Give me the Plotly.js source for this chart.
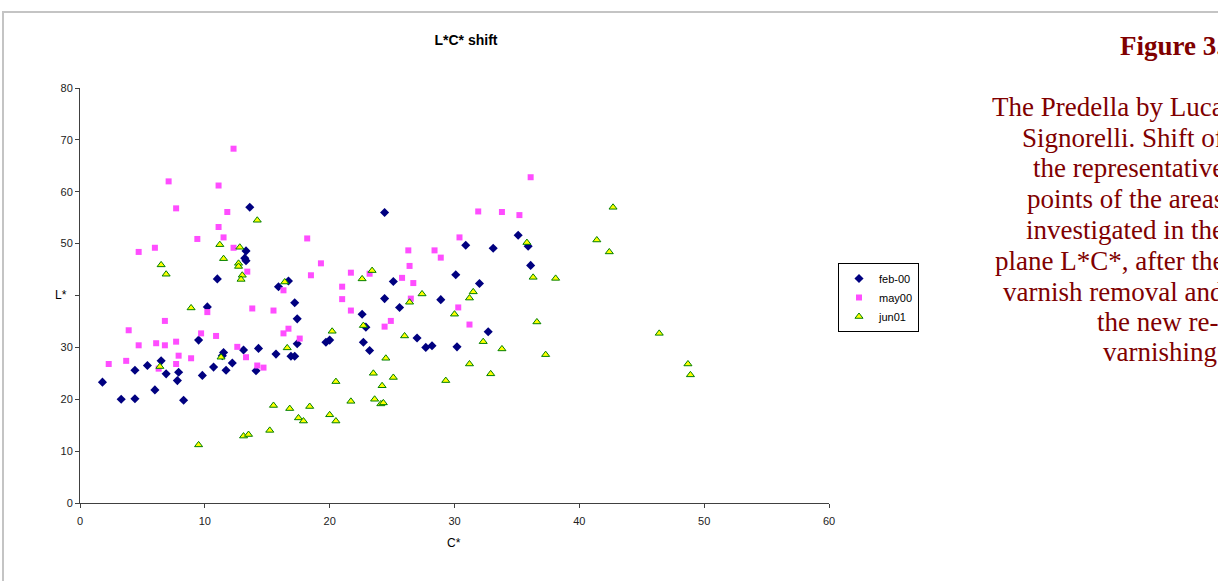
<!DOCTYPE html>
<html>
<head>
<meta charset="utf-8">
<script src="https://cdn.plot.ly/plotly-3.0.1.min.js"></script>
<style>
  html, body { margin: 0; padding: 0; background: #fff; }
  #wrap { position: relative; width: 1218px; height: 581px; overflow: hidden; }
  #chart { position: absolute; left: 0; top: 0; width: 1218px; height: 581px; }
  #frame { position: absolute; left: 2px; top: 11px; width: 1230px; height: 600px;
           border-top: 2px solid #c4c4c4; border-left: 2px solid #c4c4c4; pointer-events: none; }
</style>
</head>
<body>
<div id="wrap">
  <div id="chart"></div>
  <div id="frame"></div>
</div>
<script>
// ---- data (C*, L*) ----
const seriesNames = ["feb-00", "may00", "jun01"];

const feb00_C = [1.8,3.3,4.4,4.4,5.4,6.0,6.5,6.9,7.9,7.8,8.3,9.5,9.8,10.2,10.7,11.4,11.5,11.7,12.2,13.1,14.1,14.3,11.0,13.3,13.2,13.3,13.6,15.9,16.7,17.2,17.4,17.4,15.7,16.9,17.2,19.7,20.0,22.7,22.6,22.9,23.2,24.4,24.4,25.1,25.6,27.0,27.7,28.2,28.9,30.1,30.2,30.9,32.0,32.7,33.1,35.1,35.9,36.1];
const feb00_L = [23.3,20.0,20.1,25.6,26.5,21.8,27.4,24.9,25.2,23.6,19.8,31.4,24.6,37.8,26.2,28.4,29.0,25.6,27.0,29.5,25.5,29.8,43.2,48.6,47.2,46.7,57.0,41.7,42.8,38.6,35.5,30.7,28.7,28.3,28.3,31.0,31.4,31.0,36.4,33.9,29.4,56.0,39.4,42.7,37.7,31.8,30.0,30.3,39.2,44.0,30.1,49.7,42.3,33.0,49.1,51.6,49.5,45.8];

const may00_C = [12.3,7.1,11.1,7.7,11.8,11.1,11.5,9.4,12.3,6.0,4.7,13.4,18.2,26.3,28.4,28.9,19.3,26.4,21.7,23.2,18.5,25.8,26.7,16.3,21.0,21.0,26.5,30.4,36.1,31.9,33.8,35.2,15.5,21.7,30.3,24.9,24.4,16.7,17.6,31.2,13.8,10.2,6.8,3.9,9.7,10.9,4.7,6.1,6.8,7.7,7.9,12.6,13.3,8.9,2.3,3.7,7.7,6.3,14.2,14.7,16.3];
const may00_L = [68.3,62.0,61.2,56.8,56.1,53.2,51.2,50.9,49.2,49.2,48.4,44.6,51.0,48.7,48.7,47.3,46.2,45.7,44.4,44.2,43.9,43.4,42.4,41.0,41.7,39.3,39.4,51.2,62.8,56.2,56.1,55.5,37.1,37.1,37.7,35.1,34.0,33.6,31.7,34.4,37.5,36.8,35.1,33.3,32.7,32.2,30.4,30.8,30.4,31.1,28.4,30.1,28.1,27.9,26.8,27.4,26.8,25.9,26.5,26.1,32.7];

const jun01_C = [14.2,11.2,12.8,11.5,12.7,12.7,6.5,6.9,13.0,12.9,23.4,22.6,16.4,27.4,42.7,35.8,41.4,42.4,36.3,38.1,31.5,31.2,26.4,30.0,22.7,20.2,26.0,16.6,24.5,23.5,25.1,20.5,24.2,29.3,15.5,16.8,18.4,21.7,23.6,24.1,24.3,17.5,17.9,20.0,20.5,15.2,36.6,32.3,33.8,37.3,31.2,32.9,46.4,48.7,48.9,8.9,6.4,11.3,9.5,13.1,13.5];
const jun01_L = [54.5,49.8,49.3,47.1,46.2,45.6,45.9,44.1,43.9,43.1,44.8,43.2,42.6,40.3,57.0,50.2,50.7,48.4,43.5,43.3,40.7,39.5,38.7,36.4,34.2,33.1,32.2,29.9,27.9,25.0,24.2,23.4,22.6,23.6,18.8,18.2,18.6,19.6,20.0,19.1,19.3,16.4,15.8,17.0,15.8,14.0,34.9,31.1,29.7,28.6,26.8,24.9,32.7,26.8,24.7,37.6,26.3,28.1,11.2,12.9,13.2];

// tick labels (the "40" label is hidden behind the L* title in the reference)
const xTickVals = [0, 10, 20, 30, 40, 50, 60];
const xTickText = ["0", "10", "20", "30", "40", "50", "60"];
const yTickVals = [0, 10, 20, 30, 40, 50, 60, 70, 80];
const yTickText = ["0", "10", "20", "30", "", "50", "60", "70", "80"];

const chartTitle = "L*C* shift";
const xTitle = "C*";
const yTitle = "L*";
const captionTitle = "Figure 3.";
const captionLines = ["The Predella by Luca", "Signorelli. Shift of", "the representative",
  "points of the areas", "investigated in the", "plane L*C*, after the",
  "varnish removal and", "the new re-", "varnishing."];

// ---- layout helpers (pixel -> paper) ----
const W = 1218, H = 581;
const L = 80, R = 829, T = 88, B = 503;
const px = x => (x - L) / (R - L);
const py = y => (B - y) / (B - T);

const sans = "Arial, 'Liberation Sans', sans-serif";
const serif = "'Times New Roman', 'Liberation Serif', serif";

const traces = [
  { x: feb00_C, y: feb00_L, name: seriesNames[0], type: "scatter", mode: "markers",
    marker: { symbol: "diamond", size: 7, color: "#000080", line: { width: 0 } } },
  { x: may00_C, y: may00_L, name: seriesNames[1], type: "scatter", mode: "markers",
    marker: { symbol: "square", size: 6, color: "#ff4dff", line: { width: 0 } } },
  { x: jun01_C, y: jun01_L, name: seriesNames[2], type: "scatter", mode: "markers",
    marker: { symbol: "triangle-up", size: 7, color: "#ffff00", line: { color: "#008000", width: 1 } } }
];

const annotations = [
  { text: yTitle, xref: "paper", yref: "paper", x: px(61), y: py(295), showarrow: false,
    xanchor: "center", yanchor: "middle", font: { family: sans, size: 12, color: "#000" } },
  { text: xTitle, xref: "paper", yref: "paper", x: px(454), y: py(543), showarrow: false,
    xanchor: "center", yanchor: "middle", font: { family: sans, size: 12, color: "#000" } },
  { text: "<b>" + captionTitle + "</b>", xref: "paper", yref: "paper", x: px(1225), y: py(46),
    showarrow: false, xanchor: "right", yanchor: "middle", align: "right",
    font: { family: serif, size: 27, color: "#800000" } }
];
const lineY = [107, 138, 168, 199, 230, 261, 292, 322, 352];
const lineRight = [1226, 1226, 1226, 1226, 1226, 1226, 1226, 1220, 1226];
captionLines.forEach((t, i) => {
  annotations.push({ text: t, xref: "paper", yref: "paper", x: px(lineRight[i]), y: py(lineY[i]),
    showarrow: false, xanchor: "right", yanchor: "middle", align: "right",
    font: { family: serif, size: 27, color: "#800000" } });
});

const axisCommon = {
  showgrid: false, zeroline: false, showline: true, linecolor: "#404040", linewidth: 1,
  ticks: "outside", ticklen: 4, tickcolor: "#404040", tickwidth: 1,
  tickfont: { family: sans, size: 11, color: "#222" }, fixedrange: true, tickmode: "array"
};

const layout = {
  width: W, height: H,
  margin: { l: L, r: W - R, t: T, b: H - B, pad: 0 },
  paper_bgcolor: "#fff", plot_bgcolor: "#fff",
  title: { text: "<b>" + chartTitle + "</b>", x: 466 / W, xref: "container", xanchor: "center",
           y: 1 - 40 / H, yref: "container", yanchor: "middle",
           font: { family: sans, size: 14, color: "#000" } },
  xaxis: Object.assign({}, axisCommon, { range: [0, 60], tickvals: xTickVals, ticktext: xTickText, ticklabelstandoff: 4 }),
  yaxis: Object.assign({}, axisCommon, { range: [0, 80], tickvals: yTickVals, ticktext: yTickText }),
  showlegend: true,
  legend: { x: px(838), y: py(263), xanchor: "left", yanchor: "top",
            bordercolor: "#000", borderwidth: 1, bgcolor: "#fff",
            font: { family: sans, size: 11, color: "#000" }, itemwidth: 30, tracegroupgap: 0 },
  annotations: annotations
};

Plotly.newPlot("chart", traces, layout, { staticPlot: true, displayModeBar: false });
</script>
</body>
</html>
